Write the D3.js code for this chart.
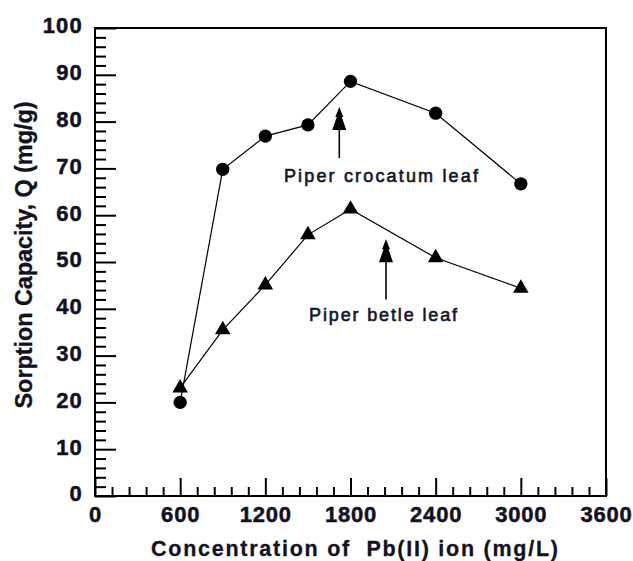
<!DOCTYPE html>
<html>
<head>
<meta charset="utf-8">
<script src="https://cdn.jsdelivr.net/npm/d3@7"></script>
<style>
  html, body { margin: 0; padding: 0; background: #fff; }
  svg { display: block; }
</style>
</head>
<body>
<svg id="chart" width="633" height="561"></svg>
<script>
// ---- data ----
const concentration = [600, 900, 1200, 1500, 1800, 2400, 3000];
const crocatum = [20.0, 69.8, 76.9, 79.3, 88.6, 81.8, 66.7];
const betle = [23.1, 35.5, 45.1, 55.8, 61.3, 50.9, 44.4];
const xTicks = [0, 600, 1200, 1800, 2400, 3000, 3600];
const yTicks = [0, 10, 20, 30, 40, 50, 60, 70, 80, 90, 100];
const seriesLabels = ["Piper crocatum leaf", "Piper betle leaf"];
const xTitle = "Concentration of  Pb(II) ion (mg/L)";
const yTitle = "Sorption Capacity, Q (mg/g)";

// ---- layout ----
const svg = d3.select("#chart");
const L = 95, R = 606, T = 28, B = 496;
const x = d3.scaleLinear().domain([0, 3600]).range([L, R]);
const y = d3.scaleLinear().domain([0, 100]).range([B, T]);
const FONT = "'Liberation Sans', Arial, Helvetica, sans-serif";
const INK = "#111122";

// frame
svg.append("rect").attr("x", L).attr("y", T).attr("width", R - L).attr("height", B - T)
  .attr("fill", "none").attr("stroke", "#000").attr("stroke-width", 2);

// minor ticks
const xMinor = d3.range(0, 3601, 120).filter(v => v % 600 !== 0);
const yMinor = d3.range(0, 101, 2).filter(v => v % 10 !== 0);

svg.append("g").attr("transform", `translate(0,${B})`)
  .call(d3.axisBottom(x).tickValues(xMinor).tickSize(-9).tickFormat(""))
  .call(g => g.select(".domain").remove())
  .call(g => g.selectAll("line").attr("stroke-width", 2));
svg.append("g").attr("transform", `translate(${L},0)`)
  .call(d3.axisLeft(y).tickValues(yMinor).tickSize(-11).tickFormat(""))
  .call(g => g.select(".domain").remove())
  .call(g => g.selectAll("line").attr("stroke-width", 2));

// major ticks + labels
const xAxis = svg.append("g").attr("transform", `translate(0,${B})`)
  .call(d3.axisBottom(x).tickValues(xTicks).tickSize(-18).tickPadding(10).tickFormat(d3.format("d")));
xAxis.select(".domain").remove();
xAxis.selectAll("line").attr("stroke-width", 2);
xAxis.selectAll("text")
  .attr("font-family", FONT).attr("font-weight", "bold").attr("font-size", 22)
  .attr("letter-spacing", 0.8).attr("fill", INK)
  .attr("stroke", INK).attr("stroke-width", 0.5);

const yAxis = svg.append("g").attr("transform", `translate(${L},0)`)
  .call(d3.axisLeft(y).tickValues(yTicks).tickSize(-21).tickPadding(12).tickFormat(d3.format("d")));
yAxis.select(".domain").remove();
yAxis.selectAll("line").attr("stroke-width", 2);
yAxis.selectAll("text")
  .attr("font-family", FONT).attr("font-weight", "bold").attr("font-size", 22)
  .attr("letter-spacing", 1.2).attr("fill", INK).attr("dy", "0.22em")
  .attr("stroke", INK).attr("stroke-width", 0.5);

// axis titles
svg.append("text").attr("x", 354.5).attr("y", 556).attr("text-anchor", "middle")
  .attr("font-family", FONT).attr("font-weight", "bold").attr("font-size", 21.5)
  .attr("fill", INK).attr("stroke", INK).attr("stroke-width", 0.3)
  .attr("textLength", 407).attr("lengthAdjust", "spacing")
  .style("white-space", "pre")
  .text(xTitle);

svg.append("text").attr("transform", "translate(31.5,255) rotate(-90)")
  .attr("text-anchor", "middle")
  .attr("font-family", FONT).attr("font-weight", "bold").attr("font-size", 23.5)
  .attr("fill", INK).attr("stroke", INK).attr("stroke-width", 0.3)
  .attr("textLength", 307).attr("lengthAdjust", "spacing")
  .text(yTitle);

// lines
const line = d3.line().x((d, i) => x(concentration[i])).y(d => y(d));
svg.append("path").datum(crocatum).attr("d", line)
  .attr("fill", "none").attr("stroke", "#000").attr("stroke-width", 1.2);
svg.append("path").datum(betle).attr("d", line)
  .attr("fill", "none").attr("stroke", "#000").attr("stroke-width", 1.2);

// markers
svg.append("g").selectAll("path").data(crocatum).join("path")
  .attr("transform", (d, i) => `translate(${x(concentration[i])},${y(d)})`)
  .attr("d", d3.symbol(d3.symbolCircle, 140)())
  .attr("fill", "#000");
svg.append("g").selectAll("path").data(betle).join("path")
  .attr("transform", (d, i) => `translate(${x(concentration[i])},${y(d)})`)
  .attr("d", d3.symbol(d3.symbolTriangle, 105)())
  .attr("fill", "#000");

// annotations (arrows + labels), anchored in data coordinates
function arrow(xv, tipV, bottomV) {
  const px = x(xv), top = y(tipV), bot = y(bottomV);
  const head = `M${px},${top} L${px - 4},${top + 10} L${px - 2.5},${top + 10} L${px - 7},${top + 23} L${px + 7},${top + 23} L${px + 2.5},${top + 10} L${px + 4},${top + 10} Z`;
  svg.append("path").attr("d", head).attr("fill", "#000");
  svg.append("line").attr("x1", px).attr("x2", px).attr("y1", top + 20).attr("y2", bot)
    .attr("stroke", "#000").attr("stroke-width", 1.6);
}
arrow(1721, 83.1, 72.2);
arrow(2050, 54.85, 42.0);

svg.append("text").attr("x", x(1331)).attr("y", y(67.2))
  .attr("font-family", FONT).attr("font-size", 18).attr("fill", "#141428")
  .attr("stroke", "#141428").attr("stroke-width", 0.6)
  .attr("textLength", 194).attr("lengthAdjust", "spacing")
  .text(seriesLabels[0]);
svg.append("text").attr("x", x(1508)).attr("y", y(37.5))
  .attr("font-family", FONT).attr("font-size", 18).attr("fill", "#141428")
  .attr("stroke", "#141428").attr("stroke-width", 0.6)
  .attr("textLength", 148).attr("lengthAdjust", "spacing")
  .text(seriesLabels[1]);
</script>
</body>
</html>
